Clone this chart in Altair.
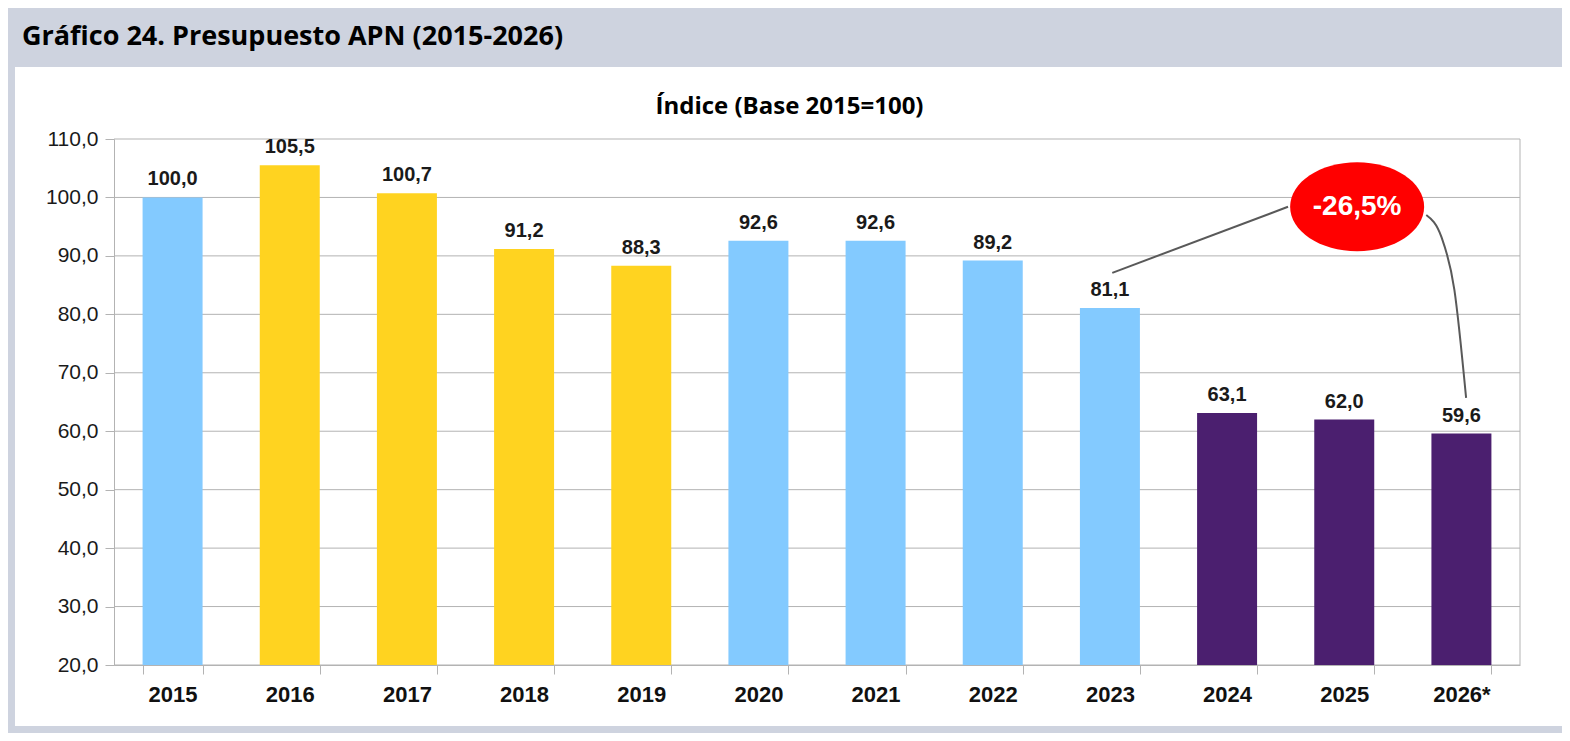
import altair as alt
import pandas as pd

# ---- data ----
anios = ["2015", "2016", "2017", "2018", "2019", "2020", "2021", "2022", "2023", "2024", "2025", "2026*"]
indice = [100.0, 105.5, 100.7, 91.2, 88.3, 92.6, 92.6, 89.2, 81.1, 63.1, 62.0, 59.6]
gobierno = ["Kirchner", "Macri", "Macri", "Macri", "Macri", "Fernández", "Fernández",
            "Fernández", "Fernández", "Milei", "Milei", "Milei"]
grupos = ["Kirchner", "Macri", "Fernández", "Milei"]
colores = ["#83caff", "#ffd320", "#83caff", "#4b1f6f"]

# callout connector lines (x in category-index units, y in index units)
linea_id = ["a", "a", "b", "b", "b", "b"]
linea_x = [8.02, 9.52, 10.70, 10.83, 10.94, 11.04]
linea_y = [87.1, 98.4, 97.0, 93.2, 84.2, 65.7]

llamada_x = [10.11]
llamada_y = [98.4]
llamada_txt = ["-26,5%"]

y_ticks = [20, 30, 40, 50, 60, 70, 80, 90, 100, 110]

W, H = 1406, 526

df = pd.DataFrame({"anio": anios, "indice": indice, "gobierno": gobierno})
df_lin = pd.DataFrame({"id": linea_id, "lx": linea_x, "ly": linea_y})
df_call = pd.DataFrame({"cx": llamada_x, "cy": llamada_y, "txt": llamada_txt})
df_ticks = pd.DataFrame({"t": y_ticks})
df_panel = pd.DataFrame({"p": [0]})

GRID = "#b3b3b3"

y_scale = alt.Scale(domain=[20, 110], nice=False, zero=False)
y_axis = alt.Axis(
    values=y_ticks, title=None, zindex=1, grid=False,
    labelExpr="replace(format(datum.value, '.1f'), '.', ',')",
    labelFont="Liberation Sans", labelFontSize=21, labelColor="#1a1a1a",
    labelPadding=7, tickSize=9, tickColor=GRID, domainColor=GRID,
)

x_band_scale = alt.Scale(paddingInner=0.488, paddingOuter=0.244)
x_axis = alt.Axis(
    title=None, labelAngle=0, tickBand="extent", grid=False, zindex=1,
    labelFont="Liberation Sans", labelFontSize=22, labelFontWeight="bold",
    labelColor="#111111", labelPadding=10, tickSize=9,
    tickColor=GRID, domainColor=GRID,
)

# white chart panel behind the plot
panel = alt.Chart(df_panel).mark_rect(color="white").encode(
    x=alt.value(-99), x2=alt.value(1449), y=alt.value(-72), y2=alt.value(587)
)

# horizontal gridlines (behind bars)
grid = alt.Chart(df_ticks).mark_rule(color=GRID, strokeWidth=1).encode(
    y=alt.Y("t:Q", scale=y_scale, axis=y_axis)
)

# right border of plot frame
frame_right = alt.Chart(df_panel).mark_rule(color=GRID, strokeWidth=1).encode(
    x=alt.value(W), y=alt.value(0), y2=alt.value(H)
)

bars = alt.Chart(df).mark_bar().encode(
    x=alt.X("anio:N", sort=anios, scale=x_band_scale, axis=x_axis),
    y=alt.Y("indice:Q", scale=y_scale, axis=y_axis),
    y2=alt.datum(20),
    color=alt.Color("gobierno:N", scale=alt.Scale(domain=grupos, range=colores), legend=None),
)

labels = alt.Chart(df).transform_calculate(
    etiqueta="replace(format(datum.indice, '.1f'), '.', ',')"
).mark_text(
    dy=-12, baseline="alphabetic", align="center",
    font="Liberation Sans", fontSize=20, fontWeight="bold", color="#1a1a1a",
).encode(
    x=alt.X("anio:N", sort=anios, scale=x_band_scale, axis=x_axis),
    y=alt.Y("indice:Q", scale=y_scale, axis=y_axis),
    text="etiqueta:N",
)

main = alt.layer(bars, labels)

x_q = alt.Scale(domain=[-0.5, 11.5], nice=False, zero=False)
top_axis = alt.Axis(
    orient="top", title="Índice (Base 2015=100)", labels=False, ticks=False,
    domain=False, grid=False, zindex=1, titleFont="Open Sans", titleFontSize=24,
    titleFontWeight="bold", titleColor="#000000", titleX=675, titleY=-26,
    titleBaseline="alphabetic", titleAlign="center",
)

lines = alt.Chart(df_lin).mark_line(
    color="#595959", strokeWidth=2, interpolate="monotone"
).encode(
    x=alt.X("lx:Q", scale=x_q, axis=top_axis),
    y=alt.Y("ly:Q", scale=y_scale, axis=y_axis),
    detail="id:N",
)

ellipse_path = ("M 1 0 C 1 0.3667 0.5523 0.664 0 0.664 "
                "C -0.5523 0.664 -1 0.3667 -1 0 "
                "C -1 -0.3667 -0.5523 -0.664 0 -0.664 "
                "C 0.5523 -0.664 1 -0.3667 1 0 Z")

ellipse = alt.Chart(df_call).mark_point(
    shape=ellipse_path, filled=True, fill="#ff0000", strokeWidth=0,
    size=17956, opacity=1,
).encode(
    x=alt.X("cx:Q", scale=x_q, axis=top_axis),
    y=alt.Y("cy:Q", scale=y_scale, axis=y_axis),
)

call_text = alt.Chart(df_call).mark_text(
    font="Liberation Sans", fontSize=28, fontWeight="bold", color="white",
    baseline="middle", align="center",
).encode(
    x=alt.X("cx:Q", scale=x_q, axis=top_axis),
    y=alt.Y("cy:Q", scale=y_scale, axis=y_axis),
    text="txt:N",
)

ann = alt.layer(lines, ellipse, call_text)

chart = alt.layer(panel, grid, frame_right, main, ann).resolve_scale(x="independent").properties(
    width=W, height=H,
    autosize=alt.AutoSizeParams(type="none"),
    padding={"left": 106, "top": 131, "right": 42, "bottom": 68},
    title=alt.TitleParams(
        text="Gráfico 24. Presupuesto APN (2015-2026)", anchor="start",
        font="Open Sans", fontSize=27, fontWeight="bold", color="#000000",
        offset=16, dx=7, frame="bounds",
    ),
).configure(background="#ced3df").configure_view(stroke=None)

chart.save("out.html", embed_options={"renderer": "svg", "actions": False})
